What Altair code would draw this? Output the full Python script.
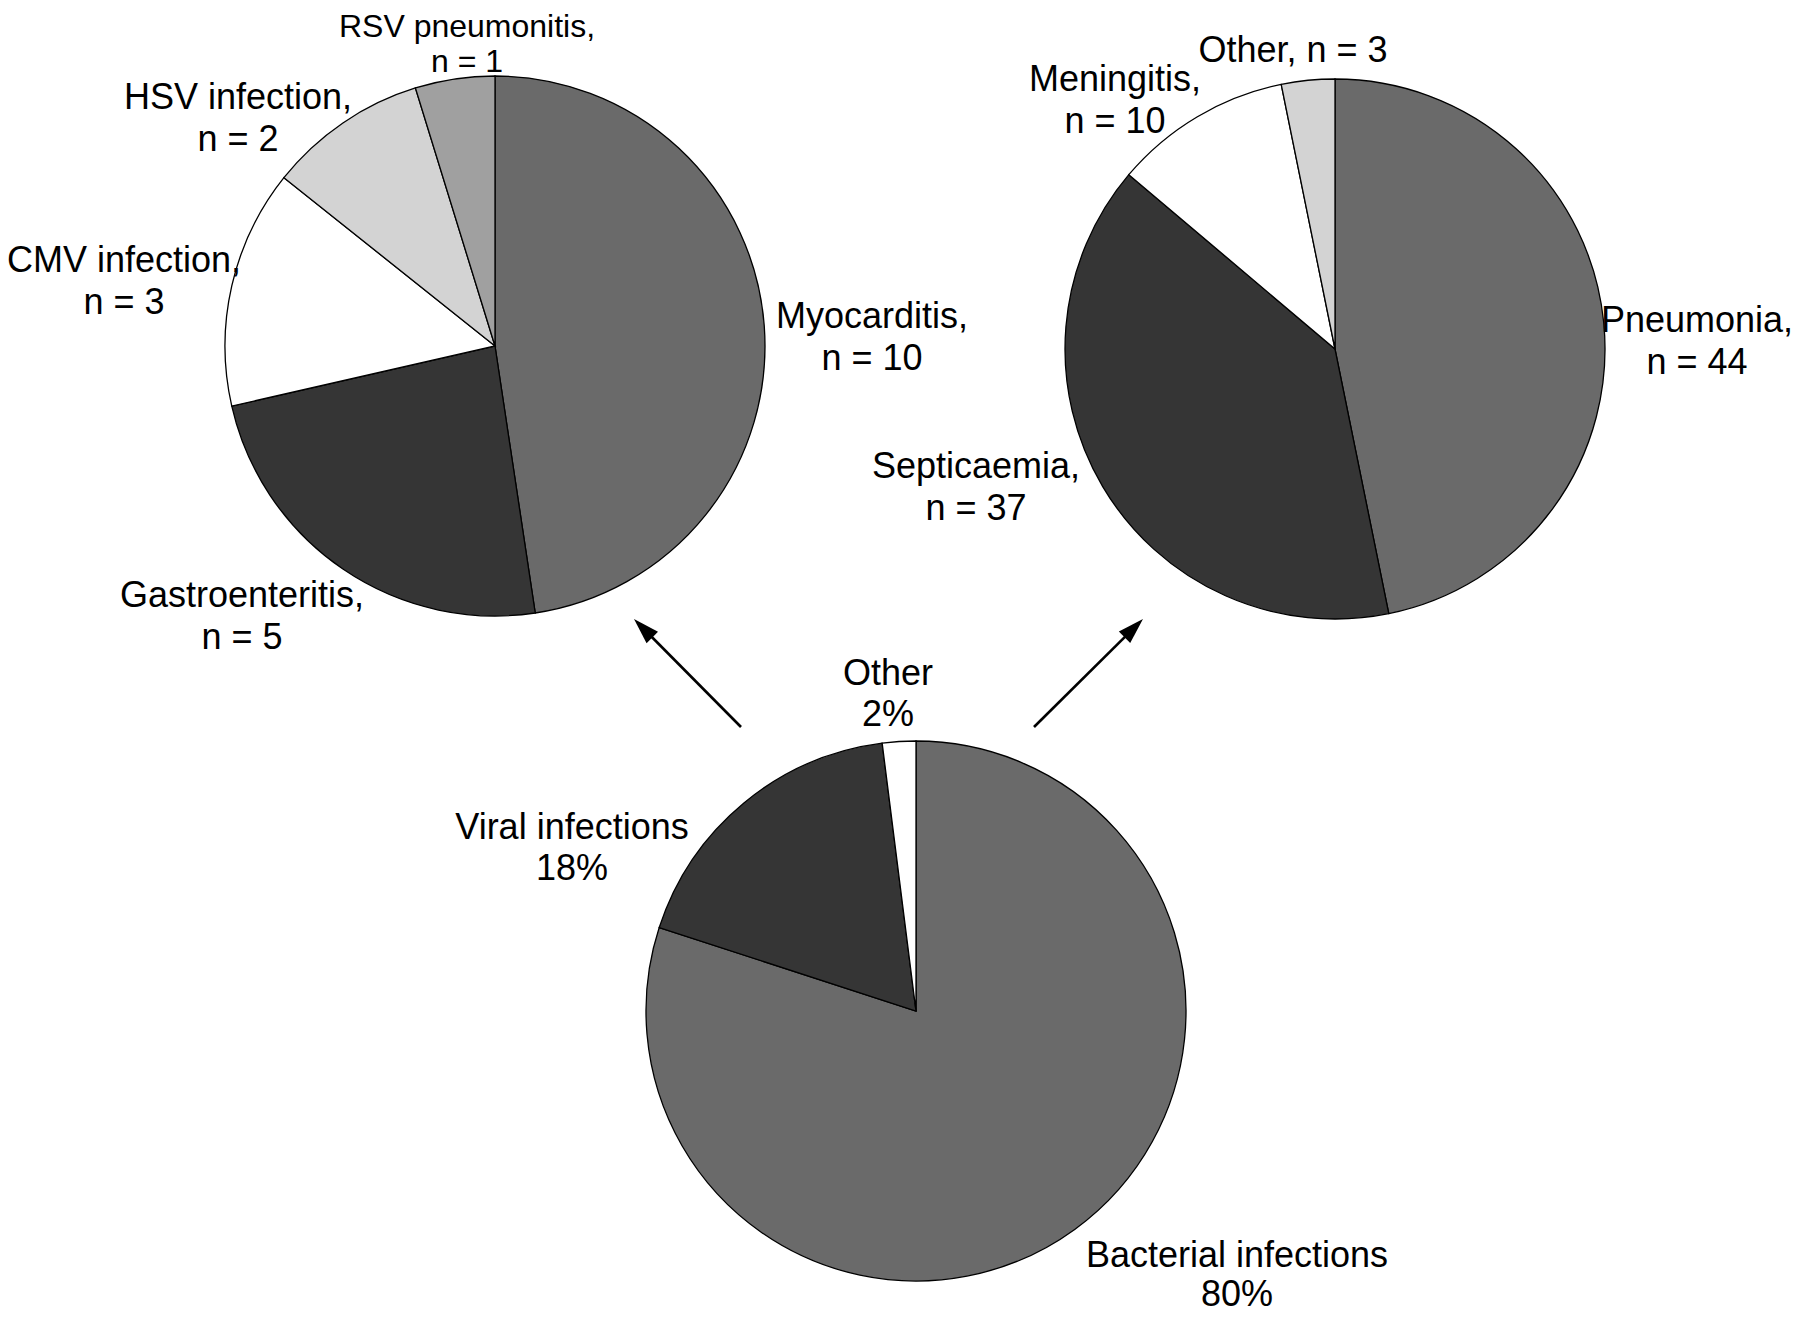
import math
import altair as alt
import pandas as pd

# ---------------- data ----------------
left_cats = ["Myocarditis", "Gastroenteritis", "CMV infection", "HSV infection", "RSV pneumonitis"]
left_vals = [10, 5, 3, 2, 1]

right_cats = ["Pneumonia", "Septicaemia", "Meningitis", "Other"]
right_vals = [44, 37, 10, 3]

main_cats = ["Bacterial infections", "Viral infections", "Other"]
main_pcts = [80, 18, 2]

# ---------------- styles / layout ----------------
left_colors = ["#6a6a6a", "#353535", "#ffffff", "#d3d3d3", "#a0a0a0"]
right_colors = ["#6a6a6a", "#353535", "#ffffff", "#d3d3d3"]
main_colors = ["#6a6a6a", "#353535", "#ffffff"]

OFF = 8  # page margin
R = 270
FONT = "Liberation Sans"
FS = 36

pie_centers = {"left": (495, 346), "right": (1335, 349), "main": (916, 1011)}

# label anchor: (centre x, first baseline, second baseline, font size), page pixels
left_label_pos = {
    "Myocarditis": (872, 328, 370, FS),
    "Gastroenteritis": (242, 607, 649, FS),
    "CMV infection": (124, 272, 314, FS),
    "HSV infection": (238, 109, 151, FS),
    "RSV pneumonitis": (467, 37, 72, 32),
}
right_label_pos = {
    "Pneumonia": (1697, 332, 374, FS),
    "Septicaemia": (976, 478, 520, FS),
    "Meningitis": (1115, 91, 133, FS),
    "Other": (1293, 62, None, FS),
}
main_label_pos = {
    "Bacterial infections": (1237, 1267, 1306, FS),
    "Viral infections": (572, 839, 880, FS),
    "Other": (888, 685, 726, FS),
}

# arrows: tail (x, y) -> tip (x, y), page pixels
arrows = [((741, 727), (634, 619)), ((1034, 727), (1143, 619))]
HEAD = 26


def pie(cats, vals, colors, center):
    df = pd.DataFrame({"cat": cats, "value": vals, "idx": list(range(len(cats)))})
    cx, cy = center
    return alt.Chart(df).mark_arc(stroke="black", strokeWidth=1.3, radius=R).encode(
        theta=alt.Theta("value:Q", stack=True),
        order=alt.Order("idx:Q"),
        color=alt.Color("cat:N", scale=alt.Scale(domain=cats, range=colors), legend=None),
        x=alt.value(cx - OFF),
        y=alt.value(cy - OFF),
    )


rows = []


def add(t, x, y, fs):
    rows.append({"txt": t, "px": x - OFF, "py": y - OFF, "fs": fs})


for c, v in zip(left_cats, left_vals):
    x, y1, y2, fs = left_label_pos[c]
    add(f"{c},", x, y1, fs)
    add(f"n = {v}", x, y2, fs)
for c, v in zip(right_cats, right_vals):
    x, y1, y2, fs = right_label_pos[c]
    if y2 is None:
        add(f"{c}, n = {v}", x, y1, fs)
    else:
        add(f"{c},", x, y1, fs)
        add(f"n = {v}", x, y2, fs)
for c, p in zip(main_cats, main_pcts):
    x, y1, y2, fs = main_label_pos[c]
    add(c, x, y1, fs)
    add(f"{p}%", x, y2, fs)
labels_df = pd.DataFrame(rows)

text = alt.Chart(labels_df).mark_text(
    font=FONT, align="center", baseline="alphabetic", color="black"
).encode(
    x=alt.X("px:Q", scale=None, axis=None),
    y=alt.Y("py:Q", scale=None, axis=None),
    size=alt.Size("fs:Q", scale=None, legend=None),
    text="txt:N",
)

arow = []
for (tx, ty), (hx, hy) in arrows:
    dx, dy = hx - tx, hy - ty
    L = math.hypot(dx, dy)
    ux, uy = dx / L, dy / L
    mx, my = hx - ux * HEAD / 2, hy - uy * HEAD / 2
    ang = (math.degrees(math.atan2(dx, -dy)) + 360) % 360
    arow.append({"x1": tx - OFF, "y1": ty - OFF, "x2": mx - OFF, "y2": my - OFF,
                 "hx": mx - OFF, "hy": my - OFF, "ang": ang})
arrow_df = pd.DataFrame(arow)

shafts = alt.Chart(arrow_df).mark_rule(color="black", strokeWidth=2.6).encode(
    x=alt.X("x1:Q", scale=None, axis=None),
    y=alt.Y("y1:Q", scale=None, axis=None),
    x2="x2:Q",
    y2="y2:Q",
)
heads = alt.Chart(arrow_df).mark_point(
    shape="M0,-1L0.62,1L-0.62,1Z", filled=True, color="black", opacity=1, size=HEAD * HEAD
).encode(
    x=alt.X("hx:Q", scale=None, axis=None),
    y=alt.Y("hy:Q", scale=None, axis=None),
    angle=alt.Angle("ang:Q", scale=None),
)

chart = alt.layer(
    pie(left_cats, left_vals, left_colors, pie_centers["left"]),
    pie(right_cats, right_vals, right_colors, pie_centers["right"]),
    pie(main_cats, main_pcts, main_colors, pie_centers["main"]),
    shafts,
    heads,
    text,
).resolve_scale(
    theta="independent", color="independent", size="independent"
).properties(
    width=1784, height=1305, padding=0, autosize="none", background="white"
).configure_view(stroke=None)

chart.save("out.html", embed_options={"renderer": "svg", "actions": False})
